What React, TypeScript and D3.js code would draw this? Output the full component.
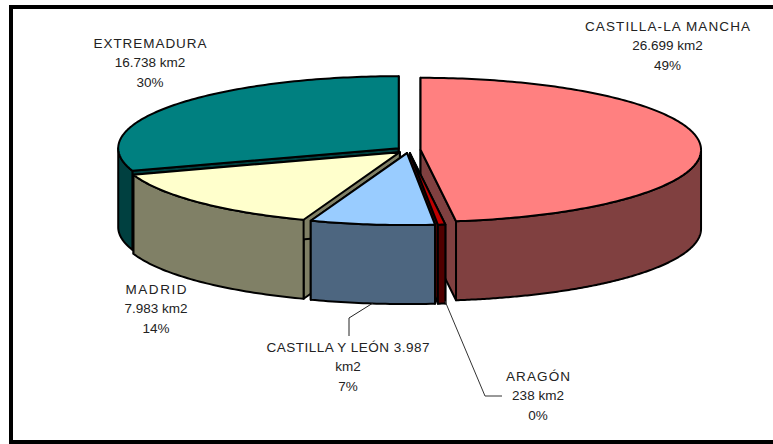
import React from "react";
import * as d3 from "d3";

const regions = ["CASTILLA-LA MANCHA", "ARAGÓN", "CASTILLA Y LEÓN", "MADRID", "EXTREMADURA"];
const areas = [26699, 238, 3987, 7983, 16738];
const topColors = ["#FF8080", "#C00000", "#99CCFF", "#FFFFCC", "#008080"];
const sideColors = ["#804040", "#500000", "#4D6680", "#808066", "#004040"];
const paintOrder = [4, 3, 0, 1, 2];

const labelLines = [
  ["CASTILLA-LA MANCHA", "26.699 km2", "49%"],
  ["ARAGÓN", "238 km2", "0%"],
  ["CASTILLA Y LEÓN 3.987", "km2", "7%"],
  ["MADRID", "7.983 km2", "14%"],
  ["EXTREMADURA", "16.738 km2", "30%"],
];
const labelX = [667.5, 538, 348, 156, 150];
const labelY = [31, 381, 352, 294, 48];
const headWidth = [165, 64, 163, 61, 113];

const W = 773, H = 444;
const cx = 408.5, cy = 150, rx = 280.5, ry = 72, explode = 0.043, depth = 79;

const pie = d3.pie<number>().sort(null).value((d) => d);
const arcs = pie(areas);

const line = d3.line<[number, number]>();

function slice(i: number) {
  const a = arcs[i];
  const mid = (a.startAngle + a.endAngle) / 2;
  const ax = cx + explode * rx * Math.sin(mid);
  const ay = cy - explode * ry * Math.cos(mid);
  const pt = (t: number): [number, number] => [ax + rx * Math.sin(t), ay - ry * Math.cos(t)];
  const down = (t: number): [number, number] => {
    const p = pt(t);
    return [p[0], p[1] + depth];
  };
  const n = Math.max(4, Math.ceil((a.endAngle - a.startAngle) * 60));
  const ts = d3.range(n + 1).map((k) => a.startAngle + ((a.endAngle - a.startAngle) * k) / n);
  const apex: [number, number] = [ax, ay];
  const apexDown: [number, number] = [ax, ay + depth];
  const top = (line([apex, ...ts.map(pt)]) ?? "") + "Z";
  // outer wall, only the part that faces the viewer
  const lo = Math.max(a.startAngle, Math.PI / 2);
  const hi = Math.min(a.endAngle, (3 * Math.PI) / 2);
  const vis = d3.range(n + 1).map((k) => lo + ((hi - lo) * k) / n);
  const wall = hi > lo ? (line([...vis.map(pt), ...vis.slice().reverse().map(down)]) ?? "") + "Z" : "";
  const faces = [a.startAngle, a.endAngle].map(
    (t) => (line([apex, pt(t), down(t), apexDown]) ?? "") + "Z"
  );
  return { top, wall, faces };
}

const leaders = [
  { pts: [[373, 303], [349, 318], [349, 336]] as [number, number][], c: "#222" },
  { pts: [[445, 301], [485, 396], [502, 396]] as [number, number][], c: "#333" },
];

export default function App() {
  return (
    <svg width={W} height={H} style={{ position: "absolute", left: 0, top: 0 }}>
      <rect x={0} y={0} width={W} height={H} fill="#fff" />
      <rect x={11} y={7} width={W} height={435} fill="#fff" stroke="#000" strokeWidth={4} />
      {paintOrder.map((i) => {
        const s = slice(i);
        return (
          <g key={regions[i]} stroke="#000" strokeWidth={2} strokeLinejoin="round">
            {s.faces.map((d, k) => (
              <path key={k} d={d} fill={sideColors[i]} />
            ))}
            {s.wall && <path d={s.wall} fill={sideColors[i]} />}
            <path d={s.top} fill={topColors[i]} />
          </g>
        );
      })}
      {leaders.map((l, i) => (
        <path key={i} d={line(l.pts) ?? ""} fill="none" stroke={l.c} strokeWidth={1} />
      ))}
      <g fontFamily="'Liberation Sans', Arial, sans-serif" fontSize={13.5} fill="#222" textAnchor="middle">
        {labelLines.map((lines, i) =>
          lines.map((t, k) => (
            <text
              key={k}
              x={labelX[i]}
              y={labelY[i] + k * 19.3}
              {...(k === 0 ? { textLength: headWidth[i], lengthAdjust: "spacing" } : {})}
            >
              {t}
            </text>
          ))
        )}
      </g>
    </svg>
  );
}
